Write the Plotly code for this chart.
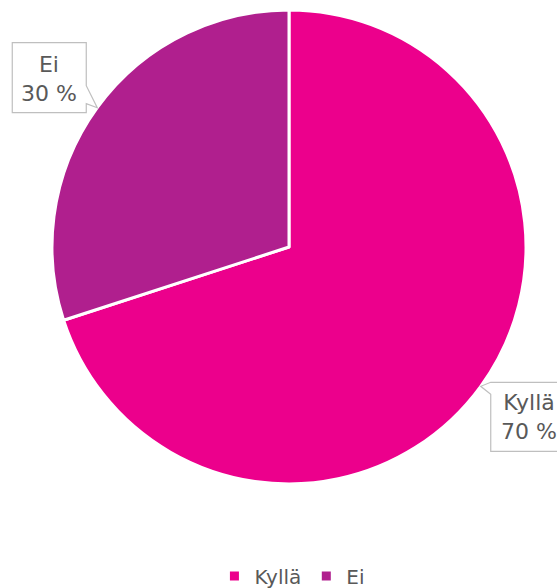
import math
import plotly.graph_objects as go

labels = ["Kyllä", "Ei"]
values = [70, 30]
colors = ["#EC008C", "#B01F8E"]

W, H = 557, 588
cx, cy, R = 289, 247, 237
FONT = "DejaVu Sans"
TXT = "#595959"
BORDER = "#BFBFBF"


def px(x):
    return x / W


def py(y):
    return 1 - y / H


fig = go.Figure()
fig.add_trace(go.Pie(
    labels=labels, values=values, sort=False, direction="clockwise", rotation=0,
    marker=dict(colors=colors, line=dict(color="white", width=3)),
    textinfo="none", hoverinfo="label+percent",
    domain=dict(x=[px(cx - R), px(cx + R)], y=[py(cy + R), py(cy - R)]),
))

total = sum(values)
cum = 0
shapes = []
annotations = []
for lab, v in zip(labels, values):
    mid = (cum + v / 2) / total * 2 * math.pi
    cum += v
    tx = cx + R * math.sin(mid)
    ty = cy - R * math.cos(mid)
    if math.sin(mid) < 0:
        L, Rr, T, B = tx - 85, tx - 11, ty - 65, ty + 5
        pts = [(L, T), (Rr, T), (Rr, ty - 22), (tx, ty), (Rr, ty - 4), (Rr, B), (L, B)]
        tcx, tcy = (L + Rr) / 2, (T + B) / 2 + 1
    else:
        L, Rr, T, B = tx + 10, tx + 90, ty - 4, ty + 65
        pts = [(L, T), (Rr, T), (Rr, B), (L, B), (L, T + 12), (tx, ty)]
        tcx, tcy = L + 38, (T + B) / 2
    path = "M " + " L ".join(f"{px(a):.5f},{py(b):.5f}" for a, b in pts) + " Z"
    shapes.append(dict(type="path", xref="paper", yref="paper", path=path,
                       fillcolor="white", line=dict(color=BORDER, width=1.2), layer="above"))
    annotations.append(dict(xref="paper", yref="paper", x=px(tcx), y=py(tcy),
                            xanchor="center", yanchor="middle", showarrow=False,
                            text=f"{lab}<br>{v / total * 100:.0f} %", align="center",
                            font=dict(family=FONT, size=22, color=TXT)))

fig.update_layout(
    width=W, height=H, margin=dict(l=0, r=0, t=0, b=0, autoexpand=False),
    paper_bgcolor="white", plot_bgcolor="white",
    shapes=shapes, annotations=annotations,
    showlegend=True,
    legend=dict(orientation="h", x=0.525, xanchor="center", y=py(576), yanchor="middle",
                font=dict(family=FONT, size=20, color=TXT), itemclick=False),
    font=dict(family=FONT, color=TXT),
)

fig.write_html("out.html", config={"displayModeBar": False},
               post_script="document.body.style.margin='0';document.body.style.overflow='hidden';")
